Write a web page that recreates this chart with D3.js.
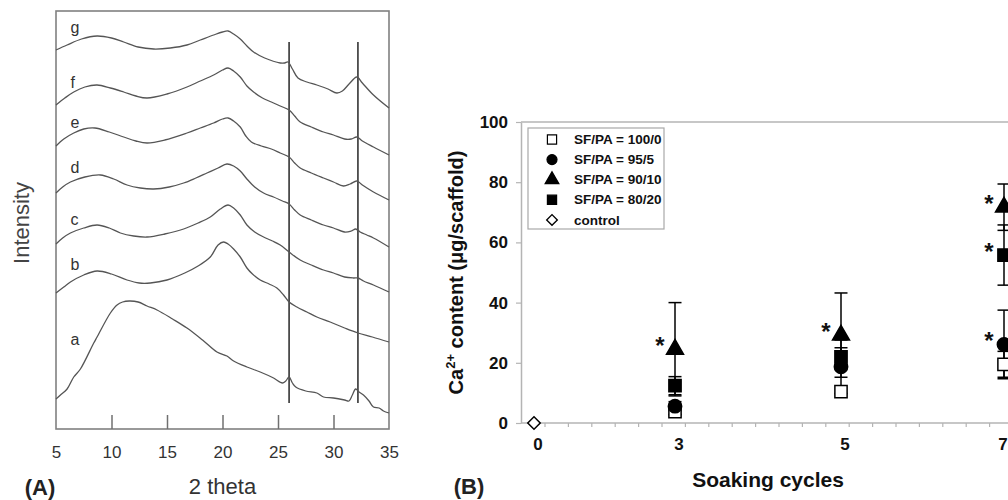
<!DOCTYPE html>
<html><head><meta charset="utf-8">
<script src="https://cdn.jsdelivr.net/npm/d3@7"></script>
<style>
body{margin:0;background:#fff;}
svg{display:block;font-family:"Liberation Sans",Arial,Helvetica,sans-serif;}
</style>
</head><body>
<svg id="chart" width="1008" height="500"></svg>
<script>
// ---------------- Panel A data (XRD patterns, 2-theta vs intensity a.u.) ----------------
const curveLetters = ["a","b","c","d","e","f","g"];
const xrdA = [[5.0,30],[5.4,34],[6.0,40],[6.6,52],[7.2,60],[8.4,86],[8.7,92],[9.9,116],[10.5,124],[11.0,127],[11.6,128],[12.4,127],[13.2,123],[14.1,119],[15.5,110],[16.8,101],[18.2,89],[19.5,77],[20.4,73],[21.0,68],[22.2,62],[23.4,57],[24.6,51],[25.4,46],[25.7,48],[26.0,52],[26.3,46],[26.6,42],[27.5,38],[28.5,36],[29.1,32],[30.0,31],[31.0,29],[31.4,28],[31.7,34],[32.0,40],[32.3,37],[32.7,34],[33.2,28],[33.6,22],[34.1,21],[34.5,18],[35.0,16]];
const xrdB = [[5.0,136],[5.7,142],[6.3,147],[7.5,154],[8.7,158],[10.0,155],[11.4,149],[12.5,146],[13.5,146],[15.0,149],[16.6,156],[17.8,163],[18.9,172],[19.6,184],[20.1,187],[20.5,185],[21.0,180],[21.6,172],[22.2,161],[22.7,155],[23.4,149],[24.2,145],[24.9,141],[25.5,134],[26.0,127],[26.7,122],[27.6,117],[28.5,112],[29.7,107],[31.0,101],[32.2,96],[33.5,92],[35.0,87]];
const xrdC = [[5.0,185],[5.6,191],[6.3,196],[7.5,201],[8.7,204],[9.8,201],[10.8,196],[12.0,193],[13.2,192],[14.8,195],[16.5,200],[17.8,206],[18.9,212],[19.8,220],[20.5,224],[21.0,221],[21.6,214],[22.2,204],[22.9,197],[23.7,192],[24.5,188],[25.2,184],[26.0,177],[27.0,169],[28.0,164],[29.1,159],[30.0,156],[31.0,152],[31.8,151],[32.2,151],[32.7,148],[33.6,144],[35.0,137]];
const xrdD = [[5.0,236],[5.6,242],[6.3,247],[7.6,252],[9.0,254],[10.2,250],[11.4,244],[12.6,241],[13.8,240],[15.2,242],[16.5,246],[17.6,251],[18.6,256],[19.6,261],[20.4,265],[21.0,263],[21.6,258],[22.2,250],[22.9,242],[23.7,236],[24.6,232],[25.4,228],[26.0,225],[26.5,219],[27.0,214],[28.0,209],[29.1,204],[30.0,201],[31.0,197],[31.6,198],[32.0,200],[32.4,197],[33.0,194],[33.6,191],[35.0,182]];
const xrdE = [[5.0,283],[5.7,290],[6.6,296],[7.5,300],[8.5,301],[9.8,297],[11.1,292],[12.2,288],[13.2,286],[14.8,289],[16.8,296],[18.0,301],[19.2,306],[20.0,310],[20.5,311],[21.0,308],[21.6,302],[22.1,293],[22.6,287],[23.5,283],[24.4,280],[25.2,276],[26.0,272],[26.5,266],[27.0,261],[28.0,256],[29.1,251],[30.0,247],[30.9,243],[31.5,245],[32.1,248],[32.6,244],[33.6,237],[35.0,229]];
const xrdF = [[5.0,324],[5.8,331],[6.6,337],[7.6,342],[8.7,344],[9.9,341],[11.1,337],[12.2,333],[13.2,331],[15.0,335],[16.8,342],[18.0,348],[19.2,354],[20.0,359],[20.5,361],[21.0,358],[21.6,352],[22.2,343],[22.8,337],[23.6,331],[24.4,327],[25.2,323],[26.0,319],[26.5,313],[27.0,307],[28.0,302],[29.1,297],[30.0,294],[31.0,290],[31.6,290],[32.1,292],[32.6,288],[33.6,282],[35.0,274]];
const xrdG = [[5.0,379],[6.0,384],[7.3,390],[8.7,393],[10.0,391],[11.1,387],[12.4,382],[13.8,380],[15.3,381],[16.8,384],[18.0,389],[19.2,394],[20.0,397],[20.5,398],[21.0,395],[21.6,390],[22.2,383],[22.8,377],[23.8,371],[25.2,366],[25.6,366],[25.9,367],[26.3,360],[26.8,351],[27.6,347],[28.5,344],[29.5,340],[30.3,336],[30.8,338],[31.4,345],[32.1,352],[32.6,346],[33.6,334],[35.0,321]];
const xrdCurves = [xrdA, xrdB, xrdC, xrdD, xrdE, xrdF, xrdG];
const curveLabelTheta = 6.3;
const curveLabelIntensity = [84, 159, 204, 256, 301, 341, 396];
const peakLines = [26.0, 32.2];
const peakLineRange = [26, 387];
const xTicksA = [10, 15, 20, 25, 30];
const xTickLabelsA = [5, 10, 15, 20, 25, 30, 35];

// ---------------- Panel B data (Ca2+ content vs soaking cycles) ----------------
const cycles = [3, 5, 7];
const xTicksB = [0, 3, 5, 7];
const yTicksB = [0, 20, 40, 60, 80, 100];
const seriesNames = ["SF/PA = 100/0", "SF/PA = 95/5", "SF/PA = 90/10", "SF/PA = 80/20", "control"];
const sf100 = [3.8, 10.4, 19.5];
const sf100Err = [1.0, 0.0, 4.3];
const sf95 = [5.6, 18.7, 26.1];
const sf95Err = [1.5, 8.9, 11.4];
const sf90 = [24.5, 29.2, 71.7];
const sf90Err = [15.5, 14.0, 7.7];
const sf80 = [12.4, 22.0, 55.8];
const sf80Err = [3.0, 3.0, 10.0];
const controlCycles = [0];
const controlValues = [0];
// significance marks: [cycle, series index]
const starMarks = [[3, 2], [5, 2], [7, 2], [7, 3], [7, 1]];

const svg = d3.select("#chart");

// =============== PANEL A ===============
const xA = d3.scaleLinear().domain([5, 35]).range([56, 389]);
const yA = d3.scaleLinear().domain([0, 418]).range([429, 11]);
const gA = svg.append("g");

gA.append("rect").attr("x", xA(5)).attr("y", yA(418)).attr("width", xA(35) - xA(5)).attr("height", yA(0) - yA(418))
  .attr("fill", "none").attr("stroke", "#808080").attr("stroke-width", 1.6);

const axA = d3.axisBottom(xA).tickValues(xTickLabelsA).tickSize(-14).tickPadding(17).tickFormat(d3.format("d"));
const axAg = gA.append("g").attr("transform", `translate(0,${yA(0)})`).call(axA);
axAg.select(".domain").remove();
axAg.selectAll(".tick line").attr("stroke", "#707070").attr("stroke-width", 1.5)
  .attr("display", d => xTicksA.includes(d) ? null : "none");
axAg.selectAll(".tick text").attr("font-size", 17).attr("fill", "#333").attr("font-family", "Liberation Sans, Arial, sans-serif");

gA.selectAll("line.peak").data(peakLines).join("line").attr("class", "peak")
  .attr("x1", d => xA(d)).attr("x2", d => xA(d))
  .attr("y1", yA(peakLineRange[1])).attr("y2", yA(peakLineRange[0]))
  .attr("stroke", "#4a4a4a").attr("stroke-width", 1.8);

const lineA = d3.line().x(d => xA(d[0])).y(d => yA(d[1])).curve(d3.curveCatmullRom.alpha(0.5));
gA.selectAll("path.xrd").data(xrdCurves).join("path").attr("class", "xrd")
  .attr("d", lineA).attr("fill", "none").attr("stroke", "#555").attr("stroke-width", 1.3);

gA.selectAll("text.lbl").data(curveLetters).join("text").attr("class", "lbl")
  .attr("x", xA(curveLabelTheta)).attr("y", (d, i) => yA(curveLabelIntensity[i]))
  .attr("font-size", 16).attr("fill", "#333").text(d => d);

gA.append("text").attr("transform", `translate(29,${(yA(0) + yA(418)) / 2 + 3}) rotate(-90)`)
  .attr("text-anchor", "middle").attr("font-size", 22).attr("fill", "#444").text("Intensity");
gA.append("text").attr("x", (xA(5) + xA(35)) / 2).attr("y", 494).attr("text-anchor", "middle")
  .attr("font-size", 22).attr("fill", "#333").text("2 theta");
gA.append("text").attr("x", 40).attr("y", 495).attr("text-anchor", "middle")
  .attr("font-size", 22).attr("font-weight", "bold").attr("fill", "#222").text("(A)");

// =============== PANEL B ===============
const xB = d3.scaleLinear().domain([0, 3, 5, 7]).range([534, 675, 841, 1004]);
const yB = d3.scaleLinear().domain([0, 100]).range([423, 122]);
const gB = svg.append("g");
const axisColor = "#b4b4b4";
const left = 521, right = 1008;

gB.append("line").attr("x1", left).attr("x2", right).attr("y1", yB(100)).attr("y2", yB(100))
  .attr("stroke", axisColor).attr("stroke-width", 1.5);
gB.append("line").attr("x1", left).attr("x2", right).attr("y1", yB(0)).attr("y2", yB(0))
  .attr("stroke", axisColor).attr("stroke-width", 1.5);

const ayB = d3.axisLeft(yB).tickValues(yTicksB).tickSize(5).tickSizeOuter(0).tickPadding(8);
const ayBg = gB.append("g").attr("transform", `translate(${left},0)`).call(ayB);
ayBg.select(".domain").attr("stroke", axisColor).attr("stroke-width", 1.5);
ayBg.selectAll(".tick line").attr("stroke", axisColor).attr("stroke-width", 1.2);
ayBg.selectAll(".tick text").attr("font-size", 17).attr("font-weight", "bold").attr("fill", "#111")
  .attr("font-family", "Liberation Sans, Arial, sans-serif");

const minorScale = d3.scaleLinear().domain([0, 21]).range([521.6, 1013]);
gB.selectAll("line.minor").data(d3.range(1, 21)).join("line").attr("class", "minor")
  .attr("x1", d => minorScale(d)).attr("x2", d => minorScale(d))
  .attr("y1", yB(0)).attr("y2", yB(0) + 4).attr("stroke", axisColor).attr("stroke-width", 1.2);

gB.selectAll("text.xt").data(xTicksB).join("text").attr("class", "xt")
  .attr("x", d => Math.min(xB(d) + 4, 1003)).attr("y", 450).attr("text-anchor", "middle")
  .attr("font-size", 17).attr("font-weight", "bold").attr("fill", "#111").text(d => d);

const yt = gB.append("text").attr("transform", `translate(463,${(yB(0) + yB(100)) / 2}) rotate(-90)`)
  .attr("text-anchor", "middle").attr("font-size", 20).attr("font-weight", "bold").attr("fill", "#111");
yt.append("tspan").text("Ca");
yt.append("tspan").attr("font-size", 13).attr("dy", -8).text("2+");
yt.append("tspan").attr("dy", 8).text(" content (μg/scaffold)");
gB.append("text").attr("x", 768).attr("y", 487).attr("text-anchor", "middle")
  .attr("font-size", 21).attr("font-weight", "bold").attr("fill", "#111").text("Soaking cycles");
gB.append("text").attr("x", 469).attr("y", 494).attr("text-anchor", "middle")
  .attr("font-size", 22).attr("font-weight", "bold").attr("fill", "#222").text("(B)");

const symSquare = d3.symbol().type(d3.symbolSquare).size(150)();
const symCircle = d3.symbol().type(d3.symbolCircle).size(140)();
const symTri = d3.symbol().type(d3.symbolTriangle).size(125)();
const symDiamond = d3.symbol().type(d3.symbolSquare).size(78)();
const series = [
  {vals: sf100, err: sf100Err, path: symSquare, fill: "#fff"},
  {vals: sf95, err: sf95Err, path: symCircle, fill: "#000"},
  {vals: sf90, err: sf90Err, path: symTri, fill: "#000"},
  {vals: sf80, err: sf80Err, path: symSquare, fill: "#000"}
];
const legendSyms = [
  {path: symSquare, fill: "#fff", scale: 0.75, rot: 0},
  {path: symCircle, fill: "#000", scale: 0.75, rot: 0},
  {path: symTri, fill: "#000", scale: 0.8, rot: 0},
  {path: symSquare, fill: "#000", scale: 0.75, rot: 0},
  {path: symDiamond, fill: "#fff", scale: 0.85, rot: 45}
];

const capHalf = 6.5;
series.forEach(s => {
  const eg = gB.append("g");
  cycles.forEach((c, i) => {
    if (!s.err[i]) return;
    const x = xB(c), y1 = yB(s.vals[i] + s.err[i]), y2 = yB(s.vals[i] - s.err[i]);
    eg.append("line").attr("x1", x).attr("x2", x).attr("y1", y1).attr("y2", y2).attr("stroke", "#000").attr("stroke-width", 1.5);
    [y1, y2].forEach(y => eg.append("line").attr("x1", x - capHalf).attr("x2", x + capHalf).attr("y1", y).attr("y2", y)
      .attr("stroke", "#000").attr("stroke-width", 1.5));
  });
});

series.forEach(s => {
  gB.append("g").selectAll("path").data(cycles).join("path")
    .attr("d", s.path)
    .attr("transform", (c, i) => `translate(${xB(c)},${yB(s.vals[i])})`)
    .attr("fill", s.fill).attr("stroke", "#000").attr("stroke-width", 1.5);
});
gB.append("g").selectAll("path").data(controlCycles).join("path")
  .attr("d", symDiamond)
  .attr("transform", (c, i) => `translate(${xB(c)},${yB(controlValues[i])}) rotate(45)`)
  .attr("fill", "#fff").attr("stroke", "#000").attr("stroke-width", 1.5);

const seriesVals = [sf100, sf95, sf90, sf80];
gB.selectAll("text.star").data(starMarks).join("text").attr("class", "star")
  .attr("x", d => xB(d[0]) - 15)
  .attr("y", d => yB(seriesVals[d[1]][cycles.indexOf(d[0])]) + 5)
  .attr("text-anchor", "middle").attr("font-size", 24).attr("font-weight", "bold").attr("fill", "#111").text("*");

const lg = gB.append("g");
lg.append("rect").attr("x", 528).attr("y", 128).attr("width", 136).attr("height", 101)
  .attr("fill", "#fff").attr("stroke", "#a8a8a8").attr("stroke-width", 1.2);
seriesNames.forEach((name, i) => {
  const cy = 139.5 + i * 20.1;
  const L = legendSyms[i];
  lg.append("path").attr("d", L.path).attr("transform", `translate(552,${cy}) rotate(${L.rot}) scale(${L.scale})`)
    .attr("fill", L.fill).attr("stroke", "#000").attr("stroke-width", 1.6);
  lg.append("text").attr("x", 574).attr("y", cy + 4.6).attr("font-size", 13.5).attr("font-weight", "bold")
    .attr("fill", "#111").text(name);
});
</script>
</body></html>
